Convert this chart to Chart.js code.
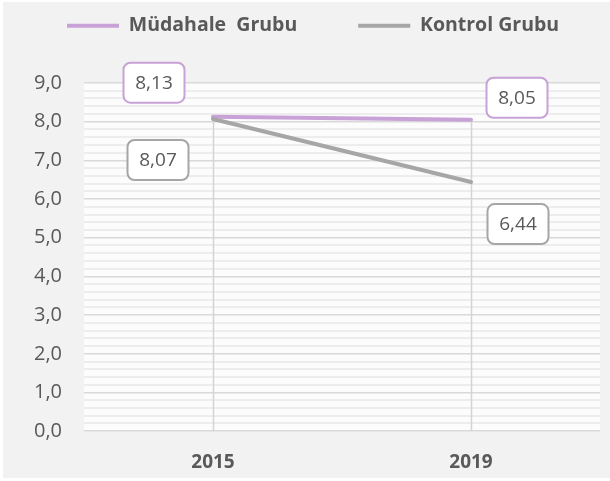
<!DOCTYPE html>
<html>
<head>
<meta charset="utf-8">
<script src="https://cdn.jsdelivr.net/npm/chart.js@4/dist/chart.umd.min.js"></script>
<style>
    html, body { margin: 0; padding: 0; background: #ffffff; }
    #wrap { position: absolute; left: 3px; top: 2px; width: 607px; height: 476px; background: #f2f2f2; }
</style>
</head>
<body>
<div id="wrap"><canvas id="grafikGrup"></canvas></div>
<script>
// veriler
const yillar = ['2015', '2019'];
const mudahaleGrubu = [8.13, 8.05];
const kontrolGrubu = [8.07, 6.44];
const seriAdlari = ['Müdahale  Grubu', 'Kontrol Grubu'];
const yEksenMin = 0;
const yEksenMax = 9;

const renkler = ['#c8a1d7', '#a6a6a6'];
const yaziRengi = '#595959';
const fontAdi = '"Open Sans", "Noto Sans", sans-serif';

// etiket kutularinin noktaya gore kaymasi (piksel)
const etiketKaymalari = [
    [[-59, -34], [46, -22]],
    [[-55, 41], [47, 42]]
];

const virgullu = (v, d) => v.toFixed(d).replace('.', ',');
const tamSayiMi = v => Math.abs(v - Math.round(v)) < 1e-6;

const cizimAlani = {
    id: 'cizimAlani',
    beforeDraw(chart) {
        const { ctx, chartArea: a } = chart;
        ctx.save();
        ctx.fillStyle = '#fcfcfc';
        ctx.fillRect(a.left, a.top, a.right - a.left, a.bottom - a.top);
        ctx.restore();
    }
};

// noktadan eksene inen dikey cizgiler
const inisCizgileri = {
    id: 'inisCizgileri',
    beforeDatasetsDraw(chart) {
        const { ctx, scales } = chart;
        ctx.save();
        ctx.strokeStyle = '#d4d4d4';
        ctx.lineWidth = 1.5;
        yillar.forEach((yil, i) => {
            const enBuyuk = Math.max(mudahaleGrubu[i], kontrolGrubu[i]);
            const x = Math.round(scales.x.getPixelForValue(i)) + 0.5;
            ctx.beginPath();
            ctx.moveTo(x, scales.y.getPixelForValue(enBuyuk));
            ctx.lineTo(x, scales.y.getPixelForValue(yEksenMin));
            ctx.stroke();
        });
        ctx.restore();
    }
};

const veriEtiketleri = {
    id: 'veriEtiketleri',
    afterDatasetsDraw(chart) {
        const { ctx } = chart;
        ctx.save();
        ctx.font = '19px ' + fontAdi;
        ctx.textAlign = 'center';
        ctx.textBaseline = 'middle';
        chart.data.datasets.forEach((ds, d) => {
            const meta = chart.getDatasetMeta(d);
            meta.data.forEach((nokta, i) => {
                const cx = nokta.x + etiketKaymalari[d][i][0];
                const cy = nokta.y + etiketKaymalari[d][i][1];
                const w = 61, h = 40;
                ctx.beginPath();
                ctx.roundRect(cx - w / 2, cy - h / 2, w, h, 7);
                ctx.fillStyle = '#ffffff';
                ctx.fill();
                ctx.lineWidth = 2;
                ctx.strokeStyle = renkler[d];
                ctx.stroke();
                ctx.fillStyle = yaziRengi;
                ctx.fillText(virgullu(ds.data[i], 2), cx, cy + 1);
            });
        });
        ctx.restore();
    }
};

const lejantYeri = {
    id: 'lejantYeri',
    beforeInit(chart) {
        const fit = chart.legend.fit;
        chart.legend.fit = function () {
            fit.call(this);
            this.height = 81;
        };
    },
    afterLayout(chart) {
        chart.legend.top = -47;
        chart.legend.right = chart.width + 200;
    }
};

const ctx = document.getElementById('grafikGrup').getContext('2d');
const grafik = new Chart(ctx, {
    type: 'line',
    data: {
        labels: yillar,
        datasets: [
            {
                label: seriAdlari[0],
                data: mudahaleGrubu,
                borderColor: renkler[0],
                backgroundColor: renkler[0],
                borderWidth: 4,
                borderCapStyle: 'round',
                pointRadius: 0,
                tension: 0,
                order: 0
            },
            {
                label: seriAdlari[1],
                data: kontrolGrubu,
                borderColor: renkler[1],
                backgroundColor: renkler[1],
                borderWidth: 4,
                borderCapStyle: 'round',
                pointRadius: 0,
                tension: 0,
                order: -1
            }
        ]
    },
    options: {
        responsive: true,
        maintainAspectRatio: false,
        animation: false,
        layout: {
            padding: { top: 0, left: 3, right: 10, bottom: -16 }
        },
        plugins: {
            legend: {
                position: 'top',
                align: 'start',
                labels: {
                    usePointStyle: true,
                    pointStyle: 'line',
                    pointStyleWidth: 52,
                    padding: 61,
                    color: yaziRengi,
                    font: { family: fontAdi, size: 19.5, weight: 'bold' },
                    sort: (a, b) => a.datasetIndex - b.datasetIndex
                }
            },
            tooltip: { enabled: false }
        },
        scales: {
            x: {
                offset: true,
                grid: { display: false, drawTicks: false },
                border: { display: false },
                ticks: {
                    color: yaziRengi,
                    padding: 20,
                    font: { family: fontAdi, size: 19, weight: 'bold' }
                }
            },
            y: {
                min: yEksenMin,
                max: yEksenMax,
                border: { display: false },
                afterFit(scale) { scale.width = 78; },
                grid: {
                    drawTicks: false,
                    color: c => tamSayiMi(c.tick.value) ? '#d9d9d9' : '#ededed',
                    lineWidth: c => tamSayiMi(c.tick.value) ? 1.5 : 2
                },
                ticks: {
                    stepSize: 0.2,
                    autoSkip: false,
                    padding: 22,
                    color: yaziRengi,
                    font: { family: fontAdi, size: 20 },
                    callback: v => tamSayiMi(v) ? virgullu(v, 1) : ''
                }
            }
        }
    },
    plugins: [cizimAlani, inisCizgileri, veriEtiketleri, lejantYeri]
});
</script>
</body>
</html>
